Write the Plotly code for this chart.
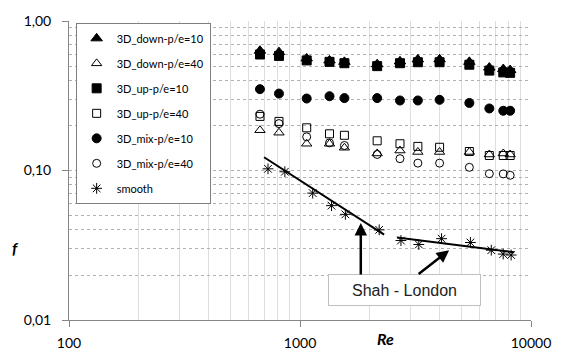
import plotly.graph_objects as go
import math

# ---- data ----
re_3d = [671, 811, 1069, 1342, 1557, 2158, 2709, 3238, 4020, 5409, 6601, 7585, 8124]
f_down10 = [0.633, 0.619, 0.562, 0.545, 0.533, 0.514, 0.537, 0.554, 0.554, 0.533, 0.488, 0.477, 0.470]
f_down40 = [0.186, 0.179, 0.151, 0.151, 0.142, 0.130, 0.136, 0.133, 0.133, 0.133, 0.128, 0.130, 0.128]
f_up10 = [0.597, 0.584, 0.545, 0.533, 0.522, 0.499, 0.522, 0.530, 0.530, 0.510, 0.466, 0.453, 0.450]
f_up40 = [0.230, 0.213, 0.193, 0.176, 0.172, 0.158, 0.151, 0.145, 0.143, 0.134, 0.126, 0.126, 0.126]
f_mix10 = [0.350, 0.327, 0.303, 0.314, 0.305, 0.305, 0.294, 0.294, 0.297, 0.283, 0.260, 0.251, 0.251]
f_mix40 = [0.238, 0.206, 0.168, 0.153, 0.147, 0.128, 0.120, 0.112, 0.112, 0.105, 0.0952, 0.0949, 0.0929]

re_smooth = [727, 860, 1135, 1369, 1572, 2202, 2735, 3268, 4100, 5467, 6730, 7580, 8204]
f_smooth = [0.1026, 0.0981, 0.0706, 0.0582, 0.0509, 0.0401, 0.0340, 0.0320, 0.0350, 0.0330, 0.0293, 0.0276, 0.0272]

re_shah_lam = [699, 2313]
f_shah_lam = [0.1227, 0.0372]
re_shah_turb = [2630, 8450]
f_shah_turb = [0.0356, 0.0284]

series_names = ["3D_down-p/e=10", "3D_down-p/e=40", "3D_up-p/e=10", "3D_up-p/e=40",
                "3D_mix-p/e=10", "3D_mix-p/e=40", "smooth"]

FONT = "Lato"

fig = go.Figure()

styles = [
    (re_3d, f_down10, "triangle-up", 10),
    (re_3d, f_down40, "triangle-up-open", 9),
    (re_3d, f_up10, "square", 9),
    (re_3d, f_up40, "square-open", 8),
    (re_3d, f_mix10, "circle", 9),
    (re_3d, f_mix40, "circle-open", 8),
    (re_smooth, f_smooth, "asterisk-open", 9),
]
for i, (xs, ys, sym, sz) in enumerate(styles):
    fig.add_trace(go.Scatter(
        x=xs, y=ys, mode="markers", name=series_names[i], legendgroup=f"g{i}",
        marker=dict(symbol=sym, size=sz, color="black", line=dict(color="black", width=1)),
    ))

for xs, ys in [(re_shah_lam, f_shah_lam), (re_shah_turb, f_shah_turb)]:
    fig.add_trace(go.Scatter(x=xs, y=ys, mode="lines", showlegend=False,
                             line=dict(color="black", width=2)))

grid_x = "#dedede"
grid_y = "#b0b0b0"

fig.update_xaxes(
    type="log", range=[2, 4], tickmode="linear", tick0=0, dtick=1, tickformat="d",
    showgrid=True, gridcolor=grid_x, gridwidth=1,
    minor=dict(dtick="D1", showgrid=True, gridcolor=grid_x, gridwidth=1, ticks=""),
    showline=True, linecolor="#868686", linewidth=1, ticks="outside", ticklen=6,
    tickcolor="#868686", zeroline=False, ticklabelstandoff=4,
    tickfont=dict(family=FONT, size=14, color="black"),
)
fig.update_yaxes(
    type="log", range=[-2, 0], tickmode="linear", tick0=0, dtick=1, tickformat=".2f",
    showgrid=True, gridcolor=grid_y, gridwidth=1, griddash="dot",
    minor=dict(dtick="D1", showgrid=True, gridcolor=grid_y, gridwidth=1, griddash="dot", ticks=""),
    showline=True, linecolor="#868686", linewidth=1, ticks="outside", ticklen=6,
    tickcolor="#868686", zeroline=False, ticklabelstandoff=8,
    tickfont=dict(family=FONT, size=14, color="black"),
)

annotations = [
    dict(text="<b><i>f</i></b>", xref="paper", yref="paper", x=(15 - 69) / 466, y=(325 - 250) / 308.6,
         xanchor="center", yanchor="middle",
         showarrow=False, font=dict(family=FONT, size=16, color="black")),
    dict(text="<b><i>Re</i></b>", xref="paper", yref="paper", x=(388 - 69) / 466, y=(325 - 344) / 308.6,
         xanchor="center", yanchor="middle",
         showarrow=False, font=dict(family=FONT, size=16, color="black")),
    dict(text="Shah - London", xref="paper", yref="paper", x=(407 - 69) / 466, y=(325 - 294) / 308.6,
         xanchor="center", yanchor="middle",
         showarrow=False, width=149, height=28, borderpad=1, bordercolor="#bfbfbf", borderwidth=1,
         bgcolor="white", font=dict(family="Liberation Sans", size=16, color="#222222")),
    dict(x=math.log10(1833), y=math.log10(0.0445), xref="x", yref="y", text="", showarrow=True,
         ax=0, ay=53, arrowhead=2, arrowsize=1, arrowwidth=2.5, arrowcolor="black", standoff=0),
    dict(x=math.log10(4422), y=math.log10(0.0293), xref="x", yref="y", text="", showarrow=True,
         ax=-32, ay=25, arrowhead=2, arrowsize=1, arrowwidth=2.5, arrowcolor="black", standoff=0),
]

fig.update_layout(
    width=563, height=363,
    margin=dict(l=69, r=28, t=16, b=38),
    paper_bgcolor="white", plot_bgcolor="white",
    separators=",.",
    showlegend=True,
    legend=dict(x=(75.7 - 69) / 466, y=(325 - 18.3) / 308.6, xanchor="left", yanchor="top",
                bgcolor="white", bordercolor="#7f7f7f", borderwidth=1,
                font=dict(family=FONT, size=11, color="black"), tracegroupgap=6,
                traceorder="grouped", itemwidth=30),
    annotations=annotations,
)

fig.write_html("out.html")
